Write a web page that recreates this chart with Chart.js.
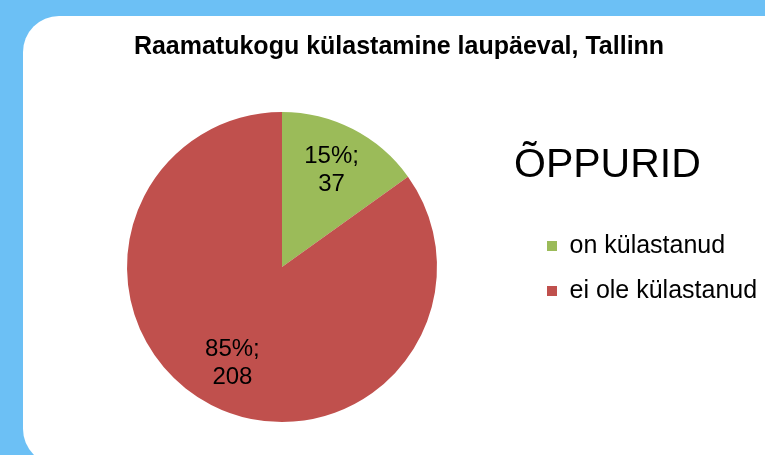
<!DOCTYPE html>
<html>
<head>
<meta charset="utf-8">
<script src="https://cdn.jsdelivr.net/npm/chart.js@4/dist/chart.umd.min.js"></script>
<style>
  html, body { margin: 0; padding: 0; background: #6cc0f5; }
  #wrap { width: 765px; height: 455px; }
</style>
</head>
<body>
<div id="wrap"><canvas id="pie" width="765" height="455"></canvas></div>
<script>
var categories = ["on külastanud", "ei ole külastanud"];
var counts = [37, 208];
var sliceColors = ["#9bbb59", "#c0504d"];
var chartTitle = "Raamatukogu külastamine laupäeval, Tallinn";
var groupName = "ÕPPURID";

var FONT = "'Liberation Sans', Arial, sans-serif";

// blue page + white rounded card behind the chart
var cardPlugin = {
  id: "card",
  beforeDraw: function (chart) {
    var c = chart.ctx;
    c.save();
    c.fillStyle = "#6cc0f5";
    c.fillRect(0, 0, chart.width, chart.height);
    c.fillStyle = "#ffffff";
    c.beginPath();
    c.roundRect(23, 16, 800, 449, 36);
    c.fill();
    c.restore();
  }
};

// "15%; 37" labels inside the slices + the big group name
var labelPlugin = {
  id: "sliceLabels",
  afterDatasetsDraw: function (chart) {
    var c = chart.ctx;
    var meta = chart.getDatasetMeta(0);
    var data = chart.data.datasets[0].data;
    var total = data.reduce(function (a, b) { return a + b; }, 0);
    c.save();
    c.fillStyle = "#000";
    c.font = "24px " + FONT;
    c.textAlign = "center";
    c.textBaseline = "middle";
    meta.data.forEach(function (arc, i) {
      var p = arc.getProps(["x", "y", "startAngle", "endAngle", "outerRadius"], true);
      var mid = (p.startAngle + p.endAngle) / 2;
      var d = p.outerRadius * 0.7;
      var x = p.x + Math.cos(mid) * d;
      var y = p.y + Math.sin(mid) * d;
      var pct = Math.round(data[i] / total * 100) + "%;";
      c.fillText(pct, x, y - 14);
      c.fillText(String(data[i]), x, y + 14);
    });
    c.textAlign = "left";
    c.textBaseline = "alphabetic";
    c.font = "41px " + FONT;
    c.fillText(groupName, 514, 177);
    c.restore();
  }
};

var ctx = document.getElementById("pie");
var pieChart = new Chart(ctx, {
  type: "pie",
  data: {
    labels: categories,
    datasets: [{
      data: counts,
      backgroundColor: sliceColors,
      borderWidth: 0
    }]
  },
  options: {
    responsive: false,
    animation: false,
    layout: {
      padding: { top: 20, bottom: 33, left: 37, right: 4 }
    },
    plugins: {
      title: {
        display: true,
        text: chartTitle,
        color: "#000",
        font: { family: FONT, size: 25, weight: "bold" },
        padding: { top: 12, bottom: 50 }
      },
      legend: {
        position: "right",
        maxWidth: 234,
        // empty title only used as a spacer to push the items down
        title: {
          display: true,
          text: "",
          font: { size: 10 },
          padding: { top: 83, bottom: 0 }
        },
        labels: {
          color: "#000",
          font: { family: FONT, size: 25 },
          boxWidth: 10,
          boxHeight: 10,
          padding: 20
        }
      },
      tooltip: { enabled: false }
    }
  },
  plugins: [cardPlugin, labelPlugin]
});
</script>
</body>
</html>
